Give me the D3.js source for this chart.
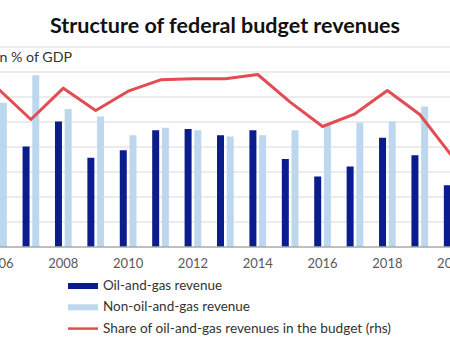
<!DOCTYPE html>
<html>
<head>
<meta charset="utf-8">
<script src="https://cdn.jsdelivr.net/npm/d3@7"></script>
<style>
  html, body { margin: 0; padding: 0; background: #fff; }
  svg { display: block; font-family: Lato, "Open Sans", sans-serif; }
</style>
</head>
<body>
<div id="chart"></div>
<script>
// values (in % of GDP, share in %)
const years = [2006, 2007, 2008, 2009, 2010, 2011, 2012, 2013, 2014, 2015, 2016, 2017, 2018, 2019, 2020];
const oilGasRevenue = [10.9, 8.0, 10.0, 7.1, 7.7, 9.3, 9.4, 8.9, 9.3, 7.0, 5.6, 6.4, 8.7, 7.3, 4.9];
const nonOilGasRevenue = [11.5, 13.7, 11.0, 10.4, 8.9, 9.5, 9.3, 8.8, 8.9, 9.3, 9.7, 9.9, 10.0, 11.2, 12.3];
const oilGasShare = [47.2, 38.1, 47.5, 40.8, 46.6, 50.0, 50.3, 50.3, 51.6, 43.3, 36.0, 39.8, 46.8, 39.6, 27.0];

const yearTicks = [2006, 2008, 2010, 2012, 2014, 2016, 2018, 2020];
const leftTicks = [0, 2, 4, 6, 8, 10, 12, 14, 16];
const rightDomain = [0, 60];

const seriesKeys = ["oil", "nonOil"];
const legendLabels = [
  "Oil-and-gas revenue",
  "Non-oil-and-gas revenue",
  "Share of oil-and-gas revenues in the budget (rhs)"
];

document.addEventListener("DOMContentLoaded", () => {
  const width = 450;
  const height = 351;

  const colors = { oil: "#0b1c8d", nonOil: "#bdd7ee", share: "#e24c52" };

  // the reference is a crop: plot area runs past both edges of the picture
  const plotLeft = -17.7;
  const plotRight = 468.4;
  const plotTop = 46.5;
  const plotBottom = 246.5;

  const svg = d3
    .select("#chart")
    .append("svg")
    .attr("width", width)
    .attr("height", height);

  svg
    .append("text")
    .attr("x", width / 2)
    .attr("y", 33)
    .attr("text-anchor", "middle")
    .attr("font-size", 20)
    .attr("font-weight", "bold")
    .attr("fill", "#111")
    .attr("textLength", 350)
    .attr("lengthAdjust", "spacingAndGlyphs")
    .text("Structure of federal budget revenues");

  const x0 = d3
    .scaleBand()
    .domain(years)
    .range([plotLeft, plotRight])
    .paddingInner(0.485)
    .paddingOuter(0.2425);

  const x1 = d3
    .scaleBand()
    .domain(seriesKeys)
    .range([0, x0.bandwidth()])
    .paddingInner(0.28);

  const yLeft = d3.scaleLinear().domain([0, 16]).range([plotBottom, plotTop]);
  const yRight = d3.scaleLinear().domain(rightDomain).range([plotBottom, plotTop]);

  // gridlines
  const grid = svg
    .append("g")
    .attr("transform", `translate(${plotLeft},0)`)
    .call(
      d3
        .axisLeft(yLeft)
        .tickValues(leftTicks.slice(1))
        .tickSize(-(plotRight - plotLeft))
        .tickFormat("")
    );
  grid.select(".domain").remove();
  grid.selectAll("line").attr("stroke", "#d9d9d9");

  svg
    .append("text")
    .attr("x", -4)
    .attr("y", 62)
    .attr("font-size", 14)
    .attr("fill", "#333")
    .attr("textLength", 76)
    .attr("lengthAdjust", "spacingAndGlyphs")
    .text("in % of GDP");

  // bars
  const rows = years.map((year, i) => ({
    year,
    oil: oilGasRevenue[i],
    nonOil: nonOilGasRevenue[i]
  }));

  const groups = svg
    .append("g")
    .selectAll("g")
    .data(rows)
    .enter()
    .append("g")
    .attr("transform", (d) => `translate(${x0(d.year)},0)`);

  groups
    .selectAll("rect")
    .data((d) => seriesKeys.map((key) => ({ key, value: d[key] })))
    .enter()
    .append("rect")
    .attr("x", (d) => x1(d.key))
    .attr("y", (d) => yLeft(d.value))
    .attr("width", x1.bandwidth())
    .attr("height", (d) => yLeft(0) - yLeft(d.value))
    .attr("fill", (d) => colors[d.key]);

  // x axis
  const xAxis = svg
    .append("g")
    .attr("transform", `translate(0,${plotBottom})`)
    .call(d3.axisBottom(x0).tickValues(yearTicks).tickSize(0).tickPadding(12));
  xAxis.select(".domain").attr("stroke", "#7f7f7f");
  xAxis
    .selectAll("text")
    .attr("font-family", "Lato, sans-serif")
    .attr("font-size", 13)
    .attr("fill", "#595959");

  // share line (rhs)
  const line = d3
    .line()
    .x((d, i) => x0(years[i]) + x0.bandwidth() / 2)
    .y((d) => yRight(d));

  svg
    .append("path")
    .datum(oilGasShare)
    .attr("fill", "none")
    .attr("stroke", colors.share)
    .attr("stroke-width", 3)
    .attr("stroke-linejoin", "round")
    .attr("d", line);

  // legend
  const legendKeys = ["oil", "nonOil", "share"];
  const legendTextW = [119, 147, 288];
  const legend = svg.append("g").attr("transform", "translate(68,286)");

  const item = legend
    .selectAll("g")
    .data(legendKeys)
    .enter()
    .append("g")
    .attr("transform", (d, i) => `translate(0,${i * 21.3})`);

  item
    .filter((d) => d !== "share")
    .append("rect")
    .attr("x", 0)
    .attr("y", -3)
    .attr("width", 30)
    .attr("height", 6)
    .attr("fill", (d) => colors[d]);

  item
    .filter((d) => d === "share")
    .append("line")
    .attr("x1", 0)
    .attr("x2", 30)
    .attr("y1", 0)
    .attr("y2", 0)
    .attr("stroke", colors.share)
    .attr("stroke-width", 2.5);

  item
    .append("text")
    .attr("x", 35)
    .attr("y", 4)
    .attr("font-size", 13)
    .attr("fill", "#333")
    .attr("textLength", (d, i) => legendTextW[i])
    .attr("lengthAdjust", "spacingAndGlyphs")
    .text((d, i) => legendLabels[i]);
});
</script>
</body>
</html>
